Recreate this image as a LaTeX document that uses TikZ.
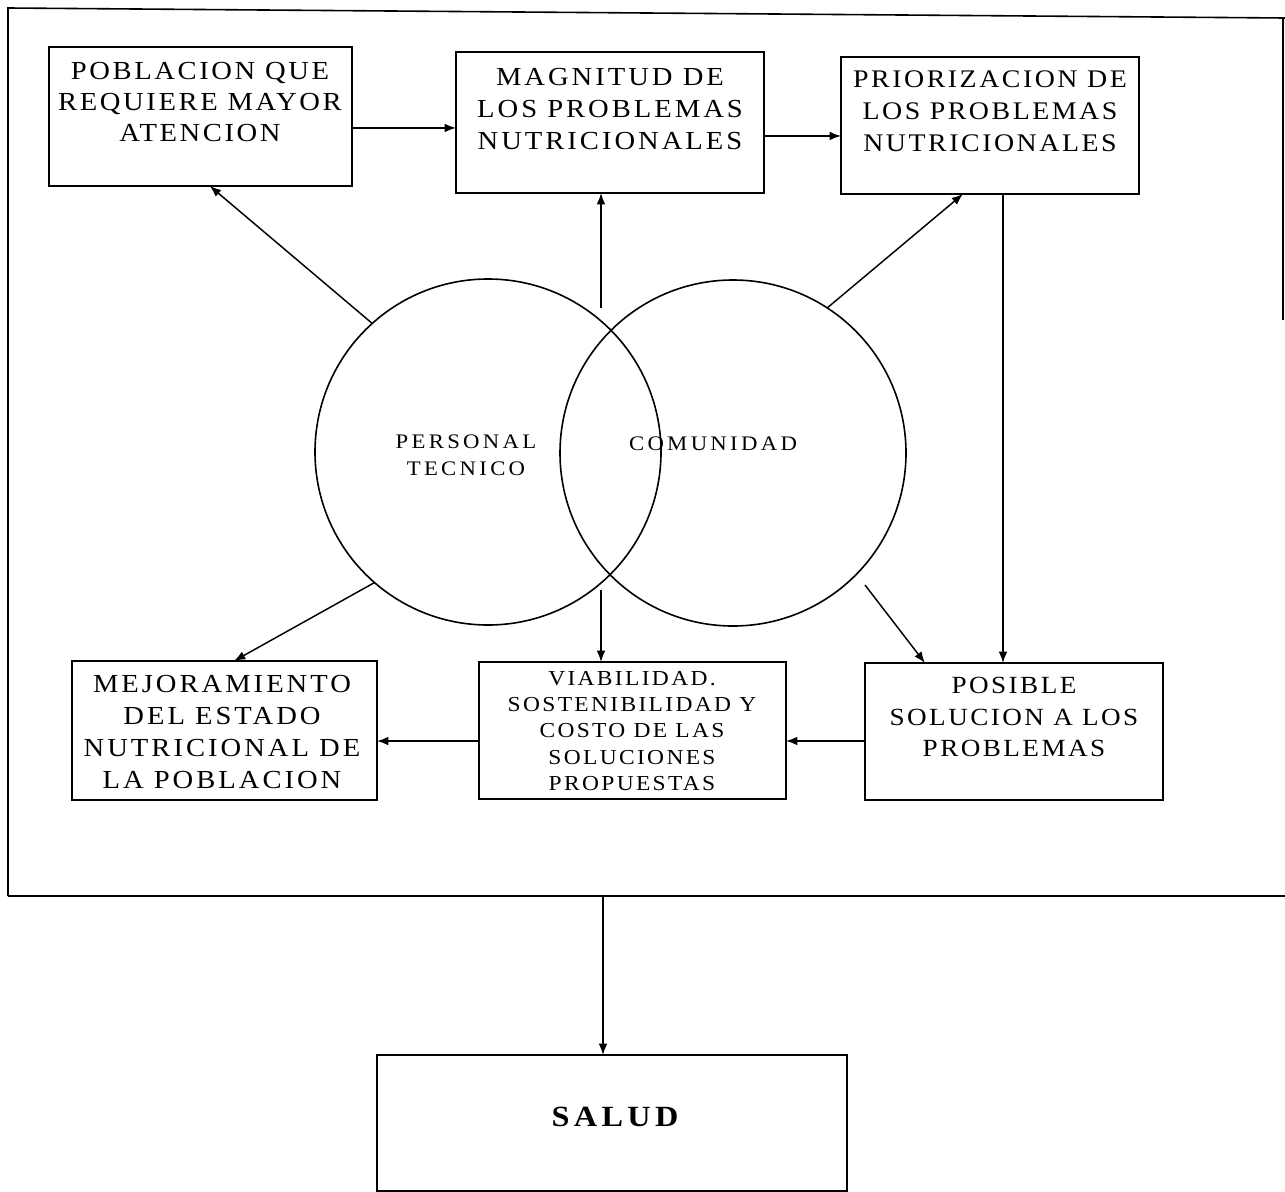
\documentclass[tikz,border=0pt]{standalone}
\usepackage{fontspec}
\setmainfont{Liberation Serif}[FakeStretch=1.1,LetterSpace=10]
\usetikzlibrary{arrows.meta,calc}
\begin{document}
\begin{tikzpicture}[x=0.75pt,y=-0.75pt,
  frame/.style={line width=1.2pt},
  box/.style={draw,line width=1.3pt,rectangle,inner sep=0pt,outer sep=0pt},
  ring/.style={draw,circle,line width=1.2pt,inner sep=0pt,outer sep=0pt,minimum size=259.5pt},
  lbl/.style={align=center,inner sep=0pt},
  wide/.style={font=\fontsize{#1}{24}\selectfont\addfontfeature{LetterSpace=11.5}},
  conn/.style={line width=1.1pt,-{Latex[length=8.5pt,width=6.5pt]}}]
\useasboundingbox (0,0) rectangle (1285,1192);

% outer frame and dividing line
\draw[frame] (8,896) -- (8,8) -- (1285,18);
\draw[frame] (1283,18) -- (1283,320);
\coordinate (divL) at (8,896);
\coordinate (divR) at (1285,896);
\draw[frame] (divL) -- (divR);

% boxes
\node[box,minimum width=227.25pt,minimum height=104.25pt] (pob) at (200.5,116.5) {};
\node[box,minimum width=231pt,minimum height=105.75pt] (mag) at (610,122.5) {};
\node[box,minimum width=223.5pt,minimum height=102.75pt] (pri) at (990,125.5) {};
\node[box,minimum width=228.75pt,minimum height=104.25pt] (mej) at (224.5,730.5) {};
\node[box,minimum width=230.25pt,minimum height=102.75pt] (via) at (632.5,730.5) {};
\node[box,minimum width=223.5pt,minimum height=102.75pt] (pos) at (1014,731.5) {};
\node[box,minimum width=352.5pt,minimum height=102pt] (sal) at (612,1123) {};

% box texts
\node[lbl,font=\fontsize{19.5}{23.6}\selectfont] (tpob) at (200,102) {POBLACION QUE\\REQUIERE MAYOR\\ATENCION};
\node[lbl,wide=19.5] (tmag) at (610,109) {MAGNITUD DE\\LOS PROBLEMAS\\NUTRICIONALES};
\node[lbl,font=\fontsize{19}{24}\selectfont] (tpri) at (990,111) {PRIORIZACION DE\\LOS PROBLEMAS\\NUTRICIONALES};
\node[lbl,wide=19.5] (tmej) at (222,732) {MEJORAMIENTO\\DEL ESTADO\\NUTRICIONAL DE\\LA POBLACION};
\node[lbl,font=\fontsize{16}{19.7}\selectfont\addfontfeature{LetterSpace=11}] (tvia) at (632,731) {VIABILIDAD.\\SOSTENIBILIDAD Y\\COSTO DE LAS\\SOLUCIONES\\PROPUESTAS};
\node[lbl,font=\fontsize{18.5}{23.6}\selectfont] (tpos) at (1014,717) {POSIBLE\\SOLUCION A LOS\\PROBLEMAS};
\node[lbl,font=\fontsize{22}{26}\bfseries\addfontfeature{LetterSpace=15}] (tsal) at (615,1117) {SALUD};

% overlapping circles
\node[ring] (per) at (488,452) {};
\node[ring] (com) at (733,453) {};
\node[lbl,font=\fontsize{15.5}{20}\selectfont\addfontfeature{LetterSpace=16}] (tper) at (466,455) {PERSONAL\\TECNICO};
\node[lbl,font=\fontsize{15.5}{20}\selectfont\addfontfeature{LetterSpace=16}] (tcom) at (713,444) {COMUNIDAD};

% free starting points of connectors near the circle intersections
\coordinate (upmid) at (601,308);
\coordinate (downmid) at (601,590);
\coordinate (downright) at (865,585);
\coordinate (divmid) at (603,896);

% connectors
\draw[conn] (per.132) -- ([xshift=7pt]pob.south);
\draw[conn] (upmid) -- (upmid |- mag.south);
\draw[conn] (com.57.5) -- ([xshift=-20.25pt]pri.south);
\draw[conn] ([yshift=-8.6pt]pob.east) -- ([yshift=-8.6pt]pob.east -| mag.west);
\draw[conn] ([yshift=-10.1pt]mag.east) -- ([yshift=-10.1pt]mag.east -| pri.west);
\draw[conn] ([xshift=9.75pt]pri.south) -- ([xshift=9.75pt]pri.south |- pos.north);
\draw[conn] (downright) -- ([xshift=-66.75pt]pos.north);
\draw[conn] (downmid) -- (downmid |- via.north);
\draw[conn] (per.229.2) -- ([xshift=7.1pt]mej.north);
\draw[conn] ([yshift=-7.1pt]pos.west) -- ([yshift=-7.1pt]pos.west -| via.east);
\draw[conn] ([yshift=-7.9pt]via.west) -- ([yshift=-7.9pt]via.west -| mej.east);
\draw[conn] (divmid) -- (divmid |- sal.north);
\end{tikzpicture}
\end{document}
